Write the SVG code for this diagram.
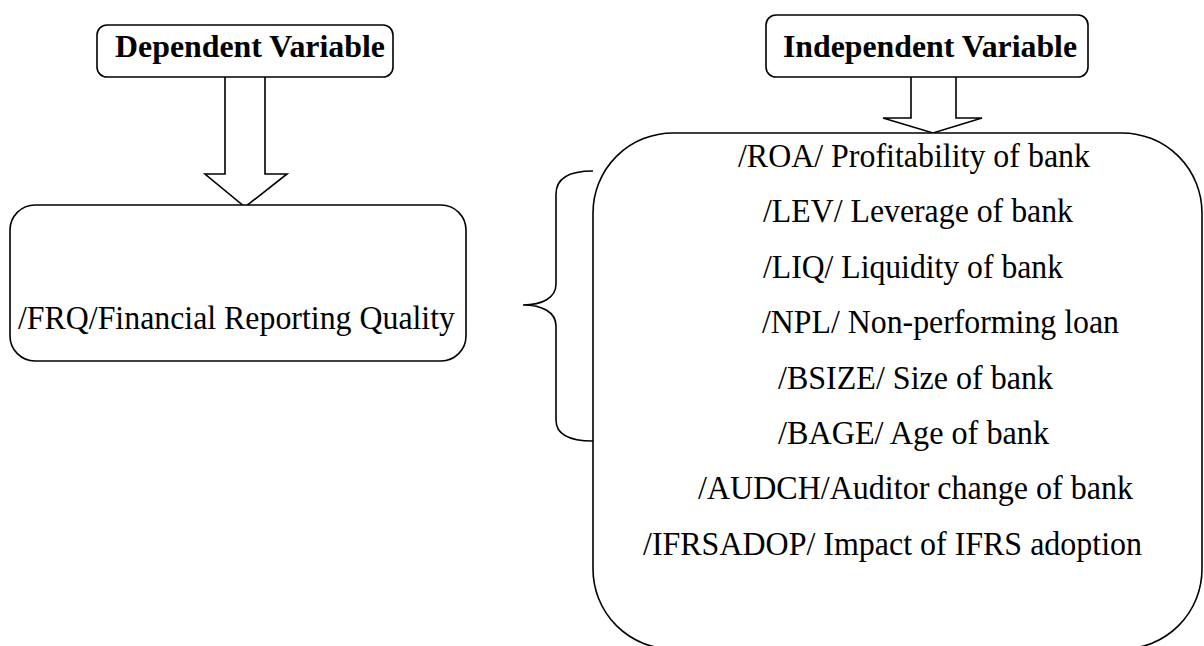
<svg xmlns="http://www.w3.org/2000/svg" width="1204" height="646" viewBox="0 0 1204 646">
<style>
.box{fill:#fff;stroke:#000;stroke-width:1.6}
.arr{fill:#fff;stroke:#000;stroke-width:1.6;stroke-linejoin:miter}
.brace{fill:none;stroke:#000;stroke-width:1.6}
.title{font-family:"Liberation Serif","Times New Roman",serif;font-size:32px;font-weight:bold;fill:#000}
.txt{font-family:"Liberation Serif","Times New Roman",serif;font-size:34px;fill:#000}
</style>
<rect width="1204" height="646" fill="#fff"/>
<g id="connectors">
  <path class="arr" d="M225 77 L225 174 L205 174 L245 207 L287 174 L265 174 L265 77"/>
  <path class="arr" d="M911 77 L911 118 L883 118 L933 133 L982 118 L956 118 L956 77"/>
  <path class="brace" d="M593 171 C570 171 556 178 556 194 L556 284 C556 298 542 305 523 305 C542 305 556 312 556 326 L556 420 C556 435 570 441 593 441"/>
</g>
<g id="dependent">
  <rect class="box" x="97" y="25" width="296" height="52" rx="10"/>
  <text class="title" x="115" y="57" textLength="270" lengthAdjust="spacingAndGlyphs">Dependent Variable</text>
</g>
<g id="independent">
  <rect class="box" x="766" y="15" width="322" height="62" rx="10"/>
  <text class="title" x="783" y="57" textLength="294" lengthAdjust="spacingAndGlyphs">Independent Variable</text>
</g>
<g id="frq">
  <rect class="box" x="10" y="205" width="456" height="156" rx="25"/>
  <text class="txt" x="18" y="329" textLength="437" lengthAdjust="spacingAndGlyphs">/FRQ/Financial Reporting Quality</text>
</g>
<g id="variables">
  <rect class="box" x="593" y="133" width="609" height="516" rx="80"/>
  <text class="txt" x="738" y="167" textLength="352" lengthAdjust="spacingAndGlyphs">/ROA/ Profitability of bank</text>
  <text class="txt" x="763" y="222" textLength="310" lengthAdjust="spacingAndGlyphs">/LEV/ Leverage of bank</text>
  <text class="txt" x="763" y="278" textLength="300" lengthAdjust="spacingAndGlyphs">/LIQ/ Liquidity of bank</text>
  <text class="txt" x="762" y="333" textLength="357" lengthAdjust="spacingAndGlyphs">/NPL/ Non-performing loan</text>
  <text class="txt" x="778" y="389" textLength="275" lengthAdjust="spacingAndGlyphs">/BSIZE/ Size of bank</text>
  <text class="txt" x="778" y="444" textLength="271" lengthAdjust="spacingAndGlyphs">/BAGE/ Age of bank</text>
  <text class="txt" x="698" y="499" textLength="435" lengthAdjust="spacingAndGlyphs">/AUDCH/Auditor change of bank</text>
  <text class="txt" x="643" y="555" textLength="499" lengthAdjust="spacingAndGlyphs">/IFRSADOP/ Impact of IFRS adoption</text>
</g>
</svg>
